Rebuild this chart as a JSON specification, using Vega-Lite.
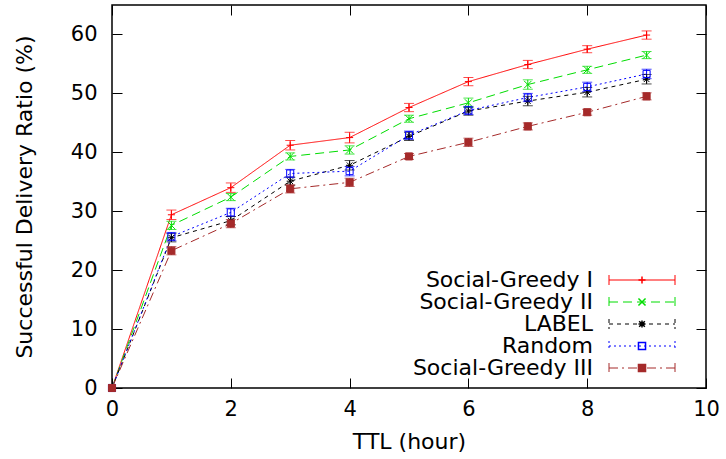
{
  "$schema": "https://vega.github.io/schema/vega-lite/v6.json",
  "width": 594,
  "height": 383,
  "autosize": {"type": "none"},
  "padding": {"left": 112, "top": 5, "right": 20, "bottom": 71},
  "background": "white",
  "config": {
    "view": {"stroke": "black", "strokeWidth": 1.5},
    "font": "DejaVu Sans",
    "axis": {
      "grid": false,
      "domain": false,
      "tickSize": -10,
      "tickColor": "black",
      "tickWidth": 1,
      "labelFontSize": 21,
      "titleFontSize": 22,
      "titleFontWeight": "normal",
      "labelColor": "black",
      "titleColor": "black",
      "labelFont": "DejaVu Sans",
      "titleFont": "DejaVu Sans",
      "labelFlush": false,
      "labelOverlap": false
    }
  },
  "data": {
    "values": [
      {"s": "Social-Greedy I", "m": "m1", "x": 0, "y": 0},
      {"s": "Social-Greedy I", "m": "m1", "x": 1, "y": 29.4, "lo": 28.6, "hi": 30.2},
      {"s": "Social-Greedy I", "m": "m1", "x": 2, "y": 34.0, "lo": 33.2, "hi": 34.8},
      {"s": "Social-Greedy I", "m": "m1", "x": 3, "y": 41.2, "lo": 40.4, "hi": 42.0},
      {"s": "Social-Greedy I", "m": "m1", "x": 4, "y": 42.5, "lo": 41.6, "hi": 43.4},
      {"s": "Social-Greedy I", "m": "m1", "x": 5, "y": 47.6, "lo": 46.9, "hi": 48.3},
      {"s": "Social-Greedy I", "m": "m1", "x": 6, "y": 52.0, "lo": 51.3, "hi": 52.7},
      {"s": "Social-Greedy I", "m": "m1", "x": 7, "y": 54.9, "lo": 54.2, "hi": 55.6},
      {"s": "Social-Greedy I", "m": "m1", "x": 8, "y": 57.5, "lo": 56.9, "hi": 58.1},
      {"s": "Social-Greedy I", "m": "m1", "x": 9, "y": 59.9, "lo": 59.2, "hi": 60.6},
      {"s": "Social-Greedy II", "m": "m2", "x": 0, "y": 0},
      {"s": "Social-Greedy II", "m": "m2", "x": 1, "y": 27.6, "lo": 26.9, "hi": 28.3},
      {"s": "Social-Greedy II", "m": "m2", "x": 2, "y": 32.4, "lo": 31.8, "hi": 33.0},
      {"s": "Social-Greedy II", "m": "m2", "x": 3, "y": 39.3, "lo": 38.7, "hi": 39.9},
      {"s": "Social-Greedy II", "m": "m2", "x": 4, "y": 40.4, "lo": 39.7, "hi": 41.1},
      {"s": "Social-Greedy II", "m": "m2", "x": 5, "y": 45.7, "lo": 45.1, "hi": 46.3},
      {"s": "Social-Greedy II", "m": "m2", "x": 6, "y": 48.4, "lo": 47.6, "hi": 49.2},
      {"s": "Social-Greedy II", "m": "m2", "x": 7, "y": 51.5, "lo": 50.7, "hi": 52.3},
      {"s": "Social-Greedy II", "m": "m2", "x": 8, "y": 54.0, "lo": 53.4, "hi": 54.6},
      {"s": "Social-Greedy II", "m": "m2", "x": 9, "y": 56.5, "lo": 55.9, "hi": 57.1},
      {"s": "LABEL", "m": "m3", "x": 0, "y": 0},
      {"s": "LABEL", "m": "m3", "x": 1, "y": 25.5, "lo": 24.8, "hi": 26.2},
      {"s": "LABEL", "m": "m3", "x": 2, "y": 28.4, "lo": 27.7, "hi": 29.1},
      {"s": "LABEL", "m": "m3", "x": 3, "y": 35.1, "lo": 34.4, "hi": 35.8},
      {"s": "LABEL", "m": "m3", "x": 4, "y": 37.8, "lo": 37.0, "hi": 38.6},
      {"s": "LABEL", "m": "m3", "x": 5, "y": 42.7, "lo": 42.0, "hi": 43.4},
      {"s": "LABEL", "m": "m3", "x": 6, "y": 47.0, "lo": 46.3, "hi": 47.7},
      {"s": "LABEL", "m": "m3", "x": 7, "y": 48.7, "lo": 47.9, "hi": 49.5},
      {"s": "LABEL", "m": "m3", "x": 8, "y": 50.2, "lo": 49.4, "hi": 51.0},
      {"s": "LABEL", "m": "m3", "x": 9, "y": 52.4, "lo": 51.6, "hi": 53.2},
      {"s": "Random", "m": "m4", "x": 0, "y": 0},
      {"s": "Random", "m": "m4", "x": 1, "y": 25.7, "lo": 25.0, "hi": 26.4},
      {"s": "Random", "m": "m4", "x": 2, "y": 29.8, "lo": 29.1, "hi": 30.5},
      {"s": "Random", "m": "m4", "x": 3, "y": 36.4, "lo": 35.7, "hi": 37.1},
      {"s": "Random", "m": "m4", "x": 4, "y": 36.8, "lo": 36.0, "hi": 37.6},
      {"s": "Random", "m": "m4", "x": 5, "y": 42.9, "lo": 42.2, "hi": 43.6},
      {"s": "Random", "m": "m4", "x": 6, "y": 47.1, "lo": 46.4, "hi": 47.8},
      {"s": "Random", "m": "m4", "x": 7, "y": 49.3, "lo": 48.6, "hi": 50.0},
      {"s": "Random", "m": "m4", "x": 8, "y": 51.1, "lo": 50.3, "hi": 51.9},
      {"s": "Random", "m": "m4", "x": 9, "y": 53.3, "lo": 52.5, "hi": 54.1},
      {"s": "Social-Greedy III", "m": "m5", "x": 0, "y": 0},
      {"s": "Social-Greedy III", "m": "m5", "x": 1, "y": 23.3, "lo": 22.6, "hi": 24.0},
      {"s": "Social-Greedy III", "m": "m5", "x": 2, "y": 27.9, "lo": 27.2, "hi": 28.6},
      {"s": "Social-Greedy III", "m": "m5", "x": 3, "y": 33.8, "lo": 33.1, "hi": 34.5},
      {"s": "Social-Greedy III", "m": "m5", "x": 4, "y": 34.9, "lo": 34.2, "hi": 35.6},
      {"s": "Social-Greedy III", "m": "m5", "x": 5, "y": 39.3, "lo": 38.8, "hi": 39.8},
      {"s": "Social-Greedy III", "m": "m5", "x": 6, "y": 41.7, "lo": 41.0, "hi": 42.4},
      {"s": "Social-Greedy III", "m": "m5", "x": 7, "y": 44.4, "lo": 43.8, "hi": 45.0},
      {"s": "Social-Greedy III", "m": "m5", "x": 8, "y": 46.8, "lo": 46.3, "hi": 47.3},
      {"s": "Social-Greedy III", "m": "m5", "x": 9, "y": 49.5, "lo": 48.9, "hi": 50.1}
    ]
  },
  "resolve": {"axis": {"x": "independent", "y": "independent"}},
  "layer": [
    {
      "mark": {"type": "line", "strokeWidth": 1, "clip": true},
      "encoding": {
        "x": {"field": "x", "type": "quantitative", "scale": {"domain": [0, 10], "nice": false},
              "axis": {"values": [0, 2, 4, 6, 8, 10], "title": "TTL (hour)", "labelPadding": 20, "titlePadding": 12}},
        "y": {"field": "y", "type": "quantitative", "scale": {"domain": [0, 65], "nice": false},
              "axis": {"values": [0, 10, 20, 30, 40, 50, 60], "title": "Successful Delivery Ratio (%)", "labelPadding": 25, "titlePadding": 34}},
        "color": {"field": "s", "type": "nominal",
                  "scale": {"domain": ["Social-Greedy I", "Social-Greedy II", "LABEL", "Random", "Social-Greedy III"],
                            "range": ["#ff0000", "#00dd00", "#000000", "#0000ff", "#a52a2a"]},
                  "legend": {"orient": "none", "legendX": 519, "legendY": 264, "title": null, "padding": 0,
                             "symbolType": "M-46,0M-6.6,-1V1M-6.6,0H6.6M6.6,-1V1",
                             "symbolSize": 100, "symbolStrokeWidth": 1, "labelAlign": "right", "labelOffset": -60,
                             "labelFont": "DejaVu Sans", "labelFontSize": 22, "labelColor": "black", "labelLimit": 0, "rowPadding": 0}},
        "strokeDash": {"field": "s", "type": "nominal",
                       "scale": {"domain": ["Social-Greedy I", "Social-Greedy II", "LABEL", "Random", "Social-Greedy III"],
                                 "range": [[1, 0], [9, 5], [4, 4], [2, 3], [9, 4, 2, 4]]}}
      }
    },
    {
      "mark": {"type": "rule", "strokeWidth": 1},
      "encoding": {
        "x": {"field": "x", "type": "quantitative", "axis": null},
        "y": {"field": "lo", "type": "quantitative", "axis": null},
        "y2": {"field": "hi"},
        "color": {"field": "s", "type": "nominal", "legend": null}
      }
    },
    {
      "mark": {"type": "tick", "orient": "horizontal", "size": 10, "thickness": 1},
      "encoding": {
        "x": {"field": "x", "type": "quantitative", "axis": null},
        "y": {"field": "lo", "type": "quantitative", "axis": null},
        "color": {"field": "s", "type": "nominal", "legend": null}
      }
    },
    {
      "mark": {"type": "tick", "orient": "horizontal", "size": 10, "thickness": 1},
      "encoding": {
        "x": {"field": "x", "type": "quantitative", "axis": null},
        "y": {"field": "hi", "type": "quantitative", "axis": null},
        "color": {"field": "s", "type": "nominal", "legend": null}
      }
    },
    {
      "mark": {"type": "point", "filled": false, "size": 50, "strokeWidth": 1, "opacity": 1},
      "encoding": {
        "x": {"field": "x", "type": "quantitative", "axis": null},
        "y": {"field": "y", "type": "quantitative", "axis": null},
        "shape": {"field": "m", "type": "nominal",
                  "scale": {"domain": ["m1", "m2", "m3", "m4", "m5"],
                            "range": ["M-1,0H1M0,-1V1", "M-1,-1L1,1M-1,1L1,-1", "M-1,0H1M0,-1V1M-0.8,-0.8L0.8,0.8M-0.8,0.8L0.8,-0.8", "M-1,-1H1V1H-1Z", "M-1,-1H1V1H-1Z"]},
                  "legend": {"orient": "none", "legendX": 519, "legendY": 264, "title": null, "padding": 0,
                             "symbolSize": 50, "labelExpr": "' '", "labelFont": "DejaVu Sans", "labelFontSize": 22, "rowPadding": 0,
                             "encode": {"symbols": {"update": {"stroke": {"scale": "stroke", "field": "value"},
                                                                "fill": {"scale": "fill", "field": "value"},
                                                                "strokeWidth": {"value": 1},
                                                                "opacity": {"value": 1}}}}}},
        "stroke": {"field": "m", "type": "nominal",
                   "scale": {"domain": ["m1", "m2", "m3", "m4", "m5"],
                             "range": ["#ff0000", "#00dd00", "#000000", "#0000ff", "#a52a2a"]},
                   "legend": null},
        "fill": {"field": "m", "type": "nominal",
                 "scale": {"domain": ["m1", "m2", "m3", "m4", "m5"],
                           "range": ["transparent", "transparent", "transparent", "transparent", "#a52a2a"]},
                 "legend": null}
      }
    },
    {
      "mark": {"type": "point", "opacity": 0},
      "encoding": {
        "x": {"field": "x", "type": "quantitative",
              "axis": {"orient": "top", "values": [0, 2, 4, 6, 8, 10], "labels": false, "title": null}},
        "y": {"field": "y", "type": "quantitative",
              "axis": {"orient": "right", "values": [0, 10, 20, 30, 40, 50, 60], "labels": false, "title": null}}
      }
    }
  ]
}
